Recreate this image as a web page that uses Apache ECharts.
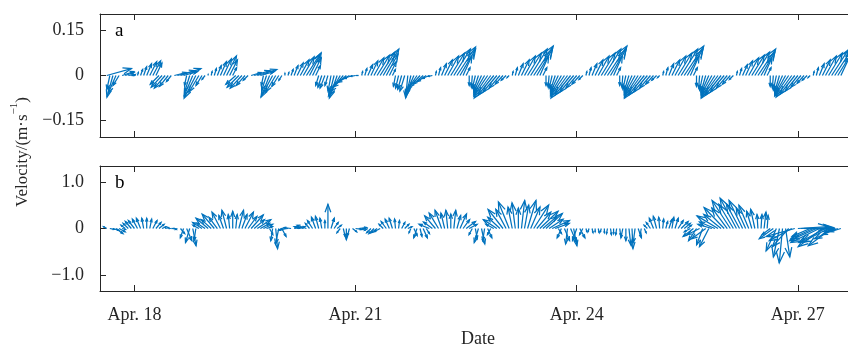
<!DOCTYPE html>
<html><head><meta charset="utf-8">
<script src="https://cdn.jsdelivr.net/npm/echarts@6/dist/echarts.min.js"></script>
<style>html,body{margin:0;padding:0;background:#fff}#c{width:848px;height:344px}</style>
</head><body><div id="c"></div>
<script>
// hourly samples starting Apr 17 15:00 (x axis = day of April)
const startDay = 17.625;
const stepDay = 1 / 24;
const xTicks = [18, 21, 24, 27];
const yTicksA = [-0.15, 0, 0.15];
const yTicksB = [-1, 0, 1];

// Panel a: velocity components, cm/s
const uA = [
  8.2,-1.0,-2.0,-2.6,-2.0,3.9,2.9,2.0,1.0,0.3,
  0.3,0.7,1.0,1.6,2.3,2.6,2.0,-2.9,-3.6,-3.6,-2.9,-1.6,3.9,5.9,6.8,4.6,-0.7,-1.6,-2.9,-3.9,-3.3,-2.0,-1.0,0,
  0.3,0.7,1.3,2.0,2.6,3.3,2.6,1.3,-3.3,-3.9,-3.9,-2.9,-1.6,3.3,5.2,6.5,4.6,-0.7,-1.6,-2.6,-3.9,-3.3,-2.3,-1.0,0,
  0.3,0.7,1.3,2.0,2.9,3.6,4.6,3.9,2.9,1.6,-1.0,-1.3,-1.6,-1.0,-1.0,-1.6,-2.6,-3.9,-4.6,-4.6,-3.9,-2.9,-1.6,-0.7,
  0.3,0.7,1.6,2.3,3.3,4.2,4.9,5.2,3.9,2.3,1.0,-0.7,-1.0,-1.3,-1.6,-0.7,-1.6,-2.6,-3.3,-3.6,-3.3,-2.9,-2.3,-1.3,
  0.3,0.7,1.6,2.6,3.6,4.6,5.5,6.2,5.2,2.9,1.3,0,-0.3,-1.0,-1.6,-2.6,-3.6,-4.6,-5.5,-5.2,-4.6,-3.6,-2.6,-1.6,-0.7,
  0.3,0.7,1.6,2.6,3.6,4.6,5.5,6.5,5.2,2.9,1.3,0,-0.3,-1.0,-1.6,-2.6,-3.6,-4.6,-5.5,-5.2,-4.6,-3.6,-2.6,-1.3,
  0.3,0.7,1.6,2.6,3.6,4.6,5.5,6.5,5.2,2.9,1.3,0,-0.3,-1.0,-1.6,-2.6,-3.6,-4.6,-5.5,-5.2,-4.6,-3.6,-2.6,-1.6,-0.7,
  0.3,0.7,1.6,2.6,3.6,4.6,5.5,6.5,5.2,2.9,1.3,0,-0.3,-1.0,-1.6,-2.6,-3.6,-4.6,-5.5,-5.2,-4.6,-3.6,-2.6,-1.3,
  0.3,0.7,1.6,2.3,3.3,4.2,4.9,5.9,4.6,2.6,1.3,0,-0.3,-1.0,-1.6,-2.6,-3.6,-4.6,-5.2,-4.9,-4.2,-3.3,-2.3,-1.6,-0.7,
  0.3,0.7,1.6,2.6,3.6,4.6,5.5,6.2,5.2,2.9
];
const vA = [
  2.3,-4.6,-7.2,-5.9,-3.3,1.3,1.0,0.3,0,0.3,
  1.0,2.0,2.9,3.9,4.6,4.9,4.2,-2.9,-3.9,-4.2,-3.6,-2.0,1.0,1.6,2.3,1.3,-3.3,-5.2,-6.8,-7.5,-5.5,-3.3,-1.3,0.3,
  1.3,2.3,3.3,4.6,5.5,6.5,5.2,2.6,-2.9,-3.9,-4.2,-3.3,-1.6,1.0,1.6,2.0,1.3,-3.3,-4.9,-6.5,-7.2,-5.5,-3.6,-1.6,0.7,
  1.0,2.0,3.3,4.2,5.2,6.2,7.2,7.5,5.9,3.3,-3.3,-3.9,-4.2,-3.3,-5.2,-6.5,-7.5,-6.8,-5.5,-3.9,-2.3,-1.0,-0.3,0,
  1.3,2.3,3.6,4.9,5.9,6.8,7.8,8.8,7.2,4.6,2.0,-3.6,-4.2,-4.6,-5.2,-7.5,-6.8,-5.9,-4.9,-3.9,-2.9,-2.0,-1.0,-0.3,
  1.3,2.6,3.9,5.2,6.5,7.5,8.8,9.5,8.8,6.5,2.6,-3.3,-3.9,-4.2,-4.9,-5.5,-6.2,-6.8,-7.5,-6.5,-5.5,-4.2,-2.9,-1.6,-0.7,
  1.3,2.6,3.9,5.2,6.5,7.5,8.8,9.8,8.8,6.5,2.6,-3.3,-3.9,-4.2,-4.9,-5.5,-6.2,-6.8,-7.5,-6.5,-5.5,-4.2,-2.9,-1.3,
  1.3,2.6,3.9,5.2,6.5,7.5,8.8,9.8,8.8,6.5,2.6,-3.3,-3.9,-4.6,-5.2,-5.9,-6.5,-7.2,-7.5,-6.5,-5.5,-4.2,-2.9,-1.6,-0.7,
  1.3,2.6,3.9,5.2,6.5,7.5,8.8,9.8,8.8,6.5,2.6,-3.6,-4.2,-4.9,-5.5,-5.9,-6.5,-7.2,-7.5,-6.5,-5.5,-4.2,-2.9,-1.3,
  1.3,2.3,3.6,4.9,5.9,6.8,7.8,8.8,7.8,5.9,2.6,-3.6,-4.2,-4.9,-5.5,-5.9,-6.5,-6.8,-7.2,-6.2,-5.2,-3.9,-2.6,-1.6,-0.7,
  1.3,2.6,3.9,5.2,6.5,7.5,8.5,9.5,8.5,6.2
];

// Panel b: velocity components, m/s
const uB = [
  -0.07,0.09,0.13,0.15,0.13,0.07,-0.09,-0.11,-0.13,-0.13,
  -0.11,-0.09,-0.04,0,0.04,0.09,0.11,0.11,0.09,0.07,
  0.04,0.07,0.04,-0.04,0.09,-0.07,0.11,-0.09,0.07,-0.04,
  -0.13,-0.20,-0.18,-0.26,-0.21,-0.26,-0.18,-0.18,-0.10,-0.10,
  -0.03,0,0.03,0.10,0.11,0.18,0.19,0.26,0.22,0.29,
  0.20,0.20,0.13,0.07,-0.04,0.04,-0.07,0.09,-0.13,-0.17,
  -0.15,0.13,0.17,-0.13,-0.17,-0.20,-0.09,-0.11,-0.09,-0.07,
  -0.04,0,0,0.07,0.09,0.09,-0.07,0.04,0,-0.04,
  0.09,0.13,0.17,0.07,-0.04,-0.07,-0.09,-0.11,-0.13,-0.13,
  -0.09,-0.11,-0.09,-0.07,-0.02,0.02,0.07,0.09,0.09,-0.04,
  0.07,-0.07,0.04,0.09,0.07,-0.22,-0.19,-0.23,-0.20,-0.14,
  -0.08,-0.04,0,0.04,0.08,0.14,0.14,0.20,0.17,-0.07,
  0.04,-0.09,0.07,-0.04,0.09,-0.07,-0.17,-0.29,-0.26,-0.32,
  -0.22,-0.23,-0.09,-0.07,0,0.07,0.09,0.18,0.20,0.32,
  0.30,0.39,0.30,0.35,0.30,0.37,0.30,0.07,-0.09,0.11,
  -0.04,0.13,0.07,-0.09,0.11,-0.07,0.02,-0.02,0.02,0,
  0.02,-0.02,0,-0.02,0.02,0,-0.02,0.02,-0.04,0,
  0.04,0.02,-0.04,0.07,-0.02,0.04,-0.07,-0.09,-0.09,-0.07,
  -0.02,0.02,0.04,0.07,0.04,0.07,0.11,0.15,0.13,0.09,
  -0.13,-0.22,-0.17,-0.26,-0.13,-0.30,-0.20,-0.30,-0.33,-0.45,
  -0.37,-0.43,-0.33,-0.39,-0.31,-0.35,-0.28,-0.29,-0.20,-0.21,
  -0.11,-0.09,-0.02,0.02,0.04,0.02,-0.17,-0.30,-0.22,-0.13,
  -0.07,0.09,-0.35,-0.48,-0.61,0.65,0.70,0.65,0.57,-0.39,
  -0.48,-0.57,-0.61,-0.52,-0.57,-0.59,-0.50,-0.43,-0.33,-0.22
];
const vB = [
  0.04,-0.02,-0.04,-0.11,-0.07,-0.02,0.07,0.11,0.15,0.17,
  0.20,0.22,0.22,0.22,0.20,0.17,0.13,0.09,0.04,0.02,
  0,0,-0.02,-0.02,-0.11,-0.20,-0.26,-0.30,-0.37,-0.26,
  0.07,0.13,0.12,0.22,0.19,0.31,0.24,0.35,0.28,0.39,
  0.30,0.37,0.30,0.39,0.30,0.35,0.26,0.29,0.19,0.19,
  0.11,0.09,0.04,-0.13,-0.26,-0.43,-0.33,-0.17,-0.04,-0.02,
  0.02,0.02,0.04,0.04,0.04,0.07,0.11,0.17,0.24,0.26,
  0.22,0.17,0.52,0.22,0.13,0.07,-0.09,-0.17,-0.24,-0.15,
  -0.07,-0.02,0.02,0,-0.02,-0.04,-0.09,-0.11,-0.09,-0.07,
  0.09,0.15,0.20,0.22,0.20,0.17,0.13,0.09,0.04,-0.09,
  -0.15,-0.20,-0.17,-0.20,-0.11,0.09,0.14,0.27,0.33,0.39,
  0.33,0.39,0.31,0.39,0.28,0.31,0.19,0.15,0.09,-0.13,
  -0.22,-0.30,-0.33,-0.26,-0.20,-0.13,0.09,0.19,0.24,0.41,
  0.41,0.57,0.46,0.55,0.44,0.60,0.50,0.60,0.46,0.50,
  0.35,0.37,0.26,0.32,0.20,0.17,0.11,-0.11,-0.20,-0.26,
  -0.33,-0.30,-0.37,-0.26,-0.20,-0.13,-0.07,-0.07,-0.09,-0.07,
  -0.09,-0.07,-0.09,-0.11,-0.13,-0.11,-0.13,-0.15,-0.20,-0.26,
  -0.35,-0.43,-0.30,-0.20,-0.13,-0.09,0.07,0.13,0.22,0.26,
  0.24,0.20,0.15,0.20,0.24,0.22,0.17,0.15,0.11,0.07,
  -0.07,-0.17,-0.26,-0.13,-0.35,-0.22,-0.39,0.09,0.14,0.27,
  0.30,0.45,0.44,0.60,0.52,0.65,0.52,0.60,0.44,0.50,
  0.37,0.41,0.30,0.30,0.35,0.28,-0.13,-0.22,-0.48,-0.61,
  -0.74,-0.61,-0.39,-0.26,-0.17,0.04,0.02,0,-0.02,-0.17,
  -0.22,-0.26,-0.30,-0.39,-0.30,-0.30,-0.37,-0.22,-0.13,-0.07
];

const COL = '#0072BD';
const AX = '#262626';
const FONT = 'Liberation Serif';
const xMin = 17.533, xMax = 27.68;

function build(u, v, f) {
  const n = Math.min(u.length, v.length);
  const out = [];
  for (let i = 0; i < n; i++) out.push([startDay + i * stepDay, u[i] * f, v[i] * f]);
  return out;
}

function arrowItem(params, api) {
  const t = api.value(0), u = api.value(1), v = api.value(2);
  const p0 = api.coord([t, 0]);
  const p1 = api.coord([t, 1]);
  const k = p0[1] - p1[1];
  const dx = u * k, dy = -v * k;
  if (Math.hypot(dx, dy) < 0.05) return null;
  const x1 = p0[0] + dx, y1 = p0[1] + dy;
  const a = 0.33, b = 0.36;
  const h1 = [x1 - a * (dx + b * dy), y1 - a * (dy - b * dx)];
  const h2 = [x1 - a * (dx - b * dy), y1 - a * (dy + b * dx)];
  return {
    type: 'group', children: [
      { type: 'line', shape: { x1: p0[0], y1: p0[1], x2: x1, y2: y1 }, style: { stroke: COL, lineWidth: 1.25 } },
      { type: 'polyline', shape: { points: [h1, [x1, y1], h2] }, style: { stroke: COL, lineWidth: 1.25, fill: null } }
    ]
  };
}

function fmt(d) {
  return function (val) {
    if (Math.abs(val) < 1e-9) return '0';
    return (val < 0 ? '\u2212' : '') + Math.abs(val).toFixed(d);
  };
}

function xAxisDef(grid, pos, labels) {
  return {
    type: 'value', gridIndex: grid, position: pos, min: xMin, max: xMax,
    axisLine: { show: true, onZero: false, lineStyle: { color: AX, width: 1 } },
    axisTick: { show: true, inside: true, length: 6, customValues: xTicks, lineStyle: { color: AX } },
    axisLabel: labels ? { show: true, customValues: xTicks, margin: 15, color: AX, fontFamily: FONT, fontSize: 18,
      formatter: function (val) { return 'Apr. ' + Math.round(val); } } : { show: false },
    splitLine: { show: false }
  };
}
function yAxisDef(grid, mn, mx, ticks, d) {
  return {
    type: 'value', gridIndex: grid, min: mn, max: mx,
    axisLine: { show: true, onZero: false, lineStyle: { color: AX, width: 1 } },
    axisTick: { show: true, inside: true, length: 6, customValues: ticks, lineStyle: { color: AX } },
    axisLabel: { show: true, customValues: ticks, margin: 16, color: AX, fontFamily: FONT, fontSize: 18, formatter: fmt(d) },
    splitLine: { show: false }
  };
}

const chart = echarts.init(document.getElementById('c'), null, { renderer: 'canvas' });
chart.setOption({
  animation: false,
  backgroundColor: '#fff',
  grid: [
    { left: 100, top: 14, height: 123, right: -12 },
    { left: 100, top: 166, height: 125, right: -12 }
  ],
  xAxis: [
    xAxisDef(0, 'bottom', false), xAxisDef(0, 'top', false),
    xAxisDef(1, 'bottom', true), xAxisDef(1, 'top', false)
  ],
  yAxis: [
    yAxisDef(0, -0.205, 0.205, yTicksA, 2),
    yAxisDef(1, -1.34, 1.34, yTicksB, 1)
  ],
  series: [
    { type: 'custom', coordinateSystem: 'cartesian2d', xAxisIndex: 0, yAxisIndex: 0, clip: true,
      renderItem: arrowItem, encode: { x: 0, y: 2 }, data: build(uA, vA, 0.01) },
    { type: 'custom', coordinateSystem: 'cartesian2d', xAxisIndex: 2, yAxisIndex: 1, clip: true,
      renderItem: arrowItem, encode: { x: 0, y: 2 }, data: build(uB, vB, 1) }
  ],
  graphic: [
    { type: 'text', x: 115, y: 31, style: { text: 'a', fontFamily: FONT, fontSize: 19, fill: '#000', verticalAlign: 'middle' } },
    { type: 'text', x: 115, y: 183, style: { text: 'b', fontFamily: FONT, fontSize: 19, fill: '#000', verticalAlign: 'middle' } },
    { type: 'text', x: 478, y: 339, style: { text: 'Date', fontFamily: FONT, fontSize: 18, fill: AX, align: 'center', verticalAlign: 'middle' } },
    { type: 'text', x: 20, y: 152, rotation: Math.PI / 2,
      style: { text: '{a|Velocity/(m\u00b7s}{s|\u22121}{a|)}', align: 'center', verticalAlign: 'middle', fill: AX,
        rich: { a: { fontFamily: FONT, fontSize: 17, fill: AX, lineHeight: 22, verticalAlign: 'bottom' },
                s: { fontFamily: FONT, fontSize: 11, fill: AX, lineHeight: 22, verticalAlign: 'top' } } } }
  ]
});
</script>
</body></html>
